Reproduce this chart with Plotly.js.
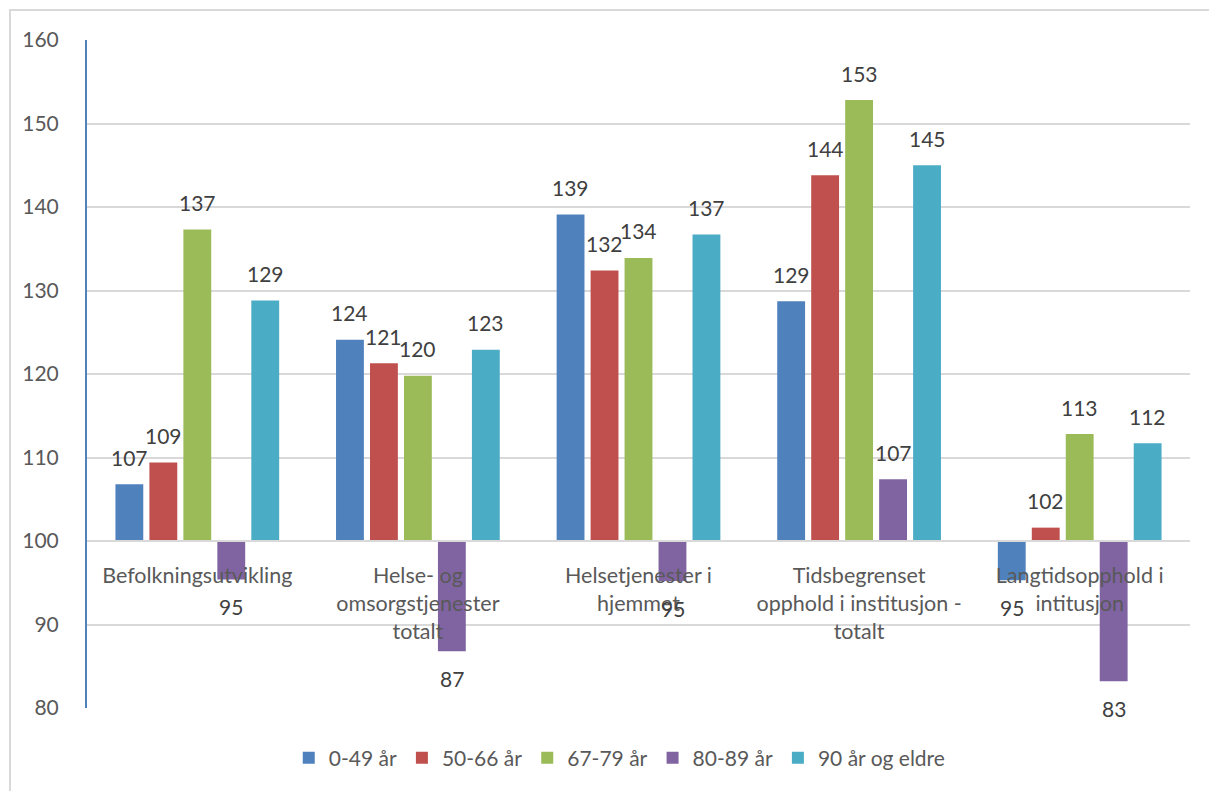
<!DOCTYPE html>
<html>
<head>
<meta charset="utf-8">
<script src="https://cdn.plot.ly/plotly-3.0.1.min.js"></script>
<style>
  html, body { margin: 0; padding: 0; background: #fff; }
  #wrap { position: relative; width: 1209px; height: 791px; overflow: hidden; }
  #chart { position: absolute; left: 0; top: 0; width: 1209px; height: 791px; }
  #frame { position: absolute; left: 9px; top: 9px; width: 1300px; height: 900px;
           border: 2px solid #d9d9d9; pointer-events: none; }
</style>
</head>
<body>
<div id="wrap">
  <div id="chart"></div>
  <div id="frame"></div>
</div>
<script>
const categories = [
  "Befolkningsutvikling",
  "Helse- og<br>omsorgstjenester<br>totalt",
  "Helsetjenester i<br>hjemmet",
  "Tidsbegrenset<br>opphold i institusjon -<br>totalt",
  "Langtidsopphold i<br>intitusjon"
];
const seriesNames = ["0-49 år", "50-66 år", "67-79 år", "80-89 år", "90 år og eldre"];
const seriesColors = ["#4F81BD", "#C0504D", "#9BBB59", "#8064A2", "#4BACC6"];
const age0_49  = [106.8, 124.1, 139.1, 128.7, 95.3];
const age50_66 = [109.4, 121.3, 132.4, 143.8, 101.6];
const age67_79 = [137.3, 119.8, 133.9, 152.8, 112.8];
const age80_89 = [95.4, 86.8, 95.2, 107.4, 83.2];
const age90    = [128.8, 122.9, 136.7, 145.0, 111.7];
const seriesValues = [age0_49, age50_66, age67_79, age80_89, age90];
const baseline = 100;

const FONT = "Lato, 'Open Sans', sans-serif";

const traces = seriesValues.map((vals, i) => ({
  type: "bar",
  name: seriesNames[i],
  x: categories,
  y: vals.map(v => v - baseline),
  base: baseline,
  marker: { color: seriesColors[i], line: { width: 0 } },
  hoverinfo: "skip"
}));

const slot = 34;
const annotations = [];
seriesValues.forEach((vals, i) => {
  vals.forEach((v, j) => {
    annotations.push({
      x: categories[j], y: v, xref: "x", yref: "y",
      text: String(Math.round(v)),
      showarrow: false,
      xshift: (i - 2) * slot,
      yshift: v >= baseline ? 27 : -27,
      yanchor: "middle",
      font: { family: FONT, size: 21, color: "#404040" }
    });
  });
});

const layout = {
  width: 1209, height: 791,
  margin: { l: 87, r: 19, t: 40, b: 81 },
  paper_bgcolor: "#ffffff", plot_bgcolor: "#ffffff",
  barmode: "group",
  bargap: 0.23,
  bargroupgap: 0.18,
  showlegend: true,
  legend: {
    orientation: "h", x: 0.483, xanchor: "center", y: -0.075, yanchor: "middle",
    font: { family: FONT, size: 21, color: "#595959" },
    traceorder: "normal"
  },
  xaxis: {
    anchor: "free", position: 0.25,
    showline: true, linecolor: "#d9d9d9", linewidth: 2,
    showgrid: false, ticks: "", ticklabelstandoff: 15,
    tickfont: { family: FONT, size: 21.5, color: "#595959" },
    fixedrange: true
  },
  yaxis: {
    range: [80, 160], dtick: 10, tick0: 80,
    showgrid: true, gridcolor: "#d9d9d9", gridwidth: 2,
    showline: true, linecolor: "#4F81BD", linewidth: 2,
    zeroline: false, ticks: "", ticklabelstandoff: 22,
    tickfont: { family: FONT, size: 21, color: "#595959" },
    fixedrange: true
  },
  annotations: annotations,
  font: { family: FONT }
};

Plotly.newPlot("chart", traces, layout, { displayModeBar: false, staticPlot: true });
</script>
</body>
</html>
